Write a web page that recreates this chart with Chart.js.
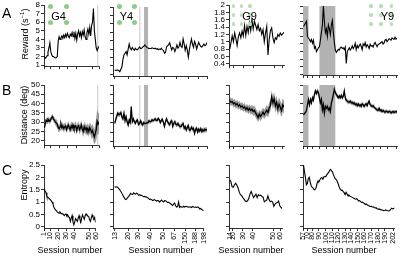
<!DOCTYPE html>
<html><head><meta charset="utf-8">
<script src="https://cdn.jsdelivr.net/npm/chart.js@4"></script>
<style>
body{margin:0;width:405px;height:257px;background:#fff;position:relative;overflow:hidden;font-family:"Liberation Sans",Arial,sans-serif;color:#000}
canvas{position:absolute}
.t{position:absolute;white-space:nowrap;line-height:1}
.r{position:absolute;white-space:nowrap;line-height:1;transform:translate(-50%,-50%) rotate(-90deg)}
.c{position:absolute;white-space:nowrap;line-height:1;transform:translate(-50%,-50%)}
</style></head><body>
<script>
// ---------- DATA ----------
const g4Reward=[2.0,1.8,1.9,2.1,2.5,3.0,3.6,2.6,2.2,2.0, 2.0,1.9,1.85,1.9,2.0,3.8,4.3,4.0,4.2,4.4, 4.1,4.5,4.2,4.6,4.3,4.7,4.4,4.2,4.6,4.4, 4.8,4.3,4.9,4.1,4.7,3.9,4.6,5.0,4.4,4.8, 4.2,4.9,4.5,5.1,4.3,4.0,4.8,5.2,4.6,5.4, 4.4,5.6,6.0,7.6,5.0,4.0,3.0,2.7,3.0,3.2];
const g4Dist=[27,29,31,30.5,31.5,31,30.5,31.5,32.5,33, 31.5,31,30,29.5,29,27,26.5,27.5,29,27, 28,26.5,27.5,28,26,27.5,28.5,27,26,28, 27,28.5,26.5,27.5,28,25.5,27.5,28,26,27, 28.5,26,25,27.5,26,27,25.5,26.5,25,27, 26,24.5,25.5,23.5,22,24,26,30.5,29,30];
const g4DistSem=[2,2,1.5,1.5,1.5,1.5,1.5,1.5,1.5,1.5, 1.5,1.5,1.5,2,2,2,2,2,2,2, 2,2,2,2,2,2,2,2,2,2.5, 2.5,2,2,2.5,2.5,2.5,2,2.5,2.5,2.5, 2.5,2.5,3,3,2.5,3,3,3,3,3, 3,3.5,3.5,4,4,5,6,7,6,5];
const g4Entropy=[1.53,1.45,1.38,1.22,1.2,1.17,1.12,1.1,1.05,1.0, 0.92,0.8,0.72,0.68,0.64,0.6,0.57,0.55,0.6,0.56, 0.52,0.53,0.5,0.45,0.5,0.52,0.44,0.48,0.4,0.38, 0.22,0.35,0.45,0.2,0.08,0.2,0.33,0.28,0.22,0.35, 0.45,0.3,0.18,0.35,0.48,0.38,0.3,0.45,0.52,0.47, 0.44,0.42,0.3,0.22,0.35,0.48,0.38,0.3,0.38,0.18];

const y4Reward=[0.5,0.45,0.5,0.5,0.45,0.3,0.6,0.9,1.8,2.3, 2.5,2.7,2.3,3.0,3.6,3.1,2.9,3.2,3.0,2.85, 3.1,2.95,2.9,3.1,3.25,3.05,3.1,3.25,3.3,3.5, 3.35,3.2,3.15,3.05,3.1,3.05,3.15,3.1,3.05,3.1, 3.0,3.05,2.95,3.0,2.95,3.1,2.9,2.85,2.5,2.6, 3.25,3.4,3.5,3.75,3.3,2.9,3.2,3.1,2.7,3.05, 3.5,3.1,3.3,3.8,3.3,3.2,4.2,3.6,2.85,3.4, 2.9,2.05,2.9,3.6,4.2,3.6,3.2,3.9,3.6,3.0, 3.4,3.8,3.5,3.3,3.25,3.4,3.6,3.4,3.5,3.8];
const y4Dist=[29.6,31.5,33.5,35,34.2,34.5,35.3,33,32,35, 31,33.2,30.5,28.8,31.4,30,38.5,30.5,32,30.5, 29.6,31,31.4,29,29.5,31,29.5,28.8,30,29.5, 29.6,30,29.8,31,30.5,30.5,31.5,31,31.4,32, 31.2,31.2,32.2,31.5,30,31.2,31.8,30,28,30.5, 32,30.5,29.6,28.8,30.5,31,28,29.6,30.5,29, 28.8,29.6,28.5,28,27.9,29,29.5,27,27.9,26.1, 27.5,28.5,26,26.1,27.5,26.5,27,24.3,26.5,27, 25,26.5,25.5,26.8,25.3,26.2,25.6,26.5,26,26.3];
const y4DistSem=[1.2,1.2,1.3,1.3,1.3,1.2,1.3,1.2,1.2,1.3, 1.2,1.2,1.2,1.3,1.2,1.2,1.5,1.3,1.2,1.2, 1.1,1.1,1.2,1.1,1.1,1.2,1.1,1.1,1.0,1.0, 1.0,1.0,1.0,1.0,1.1,1.0,1.0,1.0,1.0,1.0, 1.0,1.0,1.0,1.0,1.1,1.1,1.1,1.1,1.2,1.1, 1.1,1.2,1.2,1.1,1.1,1.2,1.2,1.1,1.2,1.2, 1.2,1.1,1.2,1.2,1.2,1.2,1.3,1.2,1.3,1.3, 1.3,1.3,1.3,1.3,1.2,1.3,1.3,1.4,1.3,1.3, 1.3,1.3,1.3,1.3,1.3,1.3,1.3,1.3,1.3,1.3];
const y4Entropy=[1.62,1.6,1.62,1.6,1.55,1.5,1.45,1.38,1.3,1.22, 1.15,1.1,1.12,1.18,1.22,1.28,1.35,1.32,1.3,1.37, 1.34,1.32,1.36,1.33,1.28,1.3,1.27,1.27,1.24,1.22, 1.23,1.21,1.2,1.17,1.15,1.1,1.12,1.1,1.06,1.08, 1.1,1.06,1.04,1.06,1.05,1.0,1.05,1.08,1.03,1.0, 1.06,1.05,1.02,0.98,1.0,0.96,0.93,0.9,0.86,0.92, 0.96,0.85,0.8,0.82,1.0,0.78,0.82,0.8,0.79,0.83, 0.8,0.82,0.83,0.8,0.79,0.81,0.8,0.78,0.82,0.8, 0.79,0.8,0.78,0.8,0.79,0.72,0.74,0.7,0.68,0.65];

const g9Reward=[0.8,0.98,1.16,1.0,1.24,1.08,0.9,1.14,1.24,1.11, 1.29,1.16,1.44,1.17,1.42,1.25,1.51,1.3,1.6,1.35, 1.56,1.45,1.33,1.47,1.3,1.37,1.2,1.33,1.0,1.24, 1.42,0.64,1.07,1.3,1.38,1.11,0.98,1.11,1.07,1.2, 1.15,1.24,1.18,1.22,1.26];
const g9Dist=[41.8,40.8,41.2,40.0,40.6,39.4,40.1,38.8,39.5,38.3, 38.9,37.8,38.4,37.0,37.9,36.6,37.6,36.4,37.2,36.0, 36.6,35.2,34.0,32.7,34.5,33.3,34.4,35.6,34.3,35.5, 36.6,35.4,37.8,39.1,43.6,40.6,42.7,38.8,40.8,37.3, 39.8,38.2,36.4,39.4,38.2];
const g9DistSem=[2,2,2,2,2,2,2,2,2,2, 2,2,2,2,2,2.2,2.2,2.2,2.4,2.4, 2.5,2.5,2.5,2.5,2.5,2.5,2.5,2.5,2.5,2.5, 2.8,2.8,3,3,3.5,3.5,3.5,3.5,3.5,3.5, 3.5,3.5,3.5,3.5,3.5];
const g9Entropy=[1.9,1.82,1.62,1.6,1.7,1.76,1.68,1.58,1.4,1.3, 1.26,1.18,1.12,1.04,1.02,1.05,1.15,1.32,1.43,1.3, 1.18,1.25,1.32,1.18,1.3,1.26,1.28,1.22,1.2,1.01, 1.05,1.08,1.25,1.1,1.01,1.04,1.0,0.83,0.92,0.96, 0.98,1.04,0.85,0.78,0.74];

const y9Reward=[1.46,1.5,1.55,1.6,1.2,1.15,1.12,1.06,1.12,1.02, 1.1,0.89,0.93,0.8,0.85,0.9,0.93,1.1,1.3,1.5, 2.0,1.6,1.3,1.4,1.2,1.5,1.4,1.25,1.5,1.62, 1.3,1.05,0.84,0.78,0.82,0.86,0.84,0.9,0.92,0.88, 0.9,0.85,0.92,0.49,0.8,0.85,0.9,0.84,0.88,0.95, 0.88,0.93,1.02,0.85,0.96,0.9,0.95,1.0,0.94,0.85, 1.0,0.96,1.04,0.92,0.98,0.94,0.88,0.99,0.94,0.96, 0.92,1.0,1.04,0.98,0.93,0.99,1.0,1.02,1.04,1.06, 1.0,1.03,1.1,1.12,1.06,1.1,1.14,1.12,1.1,1.16, 1.14,1.12,1.18,1.13,1.15];
const y9Dist=[34.1,35,35.4,36.5,39.5,42.3,39.5,42.3,40.5,43.2, 42,45,46.8,45.5,46.8,46,43.2,40.5,42.3,36.8, 39.5,35,38.6,37.7,38.6,36.8,37.7,35.9,40.5,42.3, 45,47.7,45.9,45,44.1,43.2,44.1,43.2,44.5,43.2, 44,46.8,43.2,41.9,41.4,41,40.8,41.4,40.5,40.8, 40,40.5,39.5,40,39,40,39,39.5,38.6,40, 39.5,38.6,39.5,40,39,40.5,41.4,39.5,39,38.6, 39,38.2,37.7,37.2,36.8,36.5,37.7,36.3,36.8,35.9, 36.5,35.9,35.5,36.2,35.9,35.5,36,35.9,35.2,35.6, 35.9,35.4,35.7,35.9,35.6];
const y9DistSem=[1.2,1.2,1.3,1.3,1.5,1.5,1.5,1.5,1.5,1.5, 1.5,1.5,1.5,1.5,1.5,1.5,2,2,2,2, 2,2,2,2,2,2,2,2,2,1.8, 1.6,1.5,1.4,1.3,1.3,1.2,1.2,1.2,1.2,1.2, 1.2,1.2,1.2,1.2,1.1,1.1,1.1,1.1,1.1,1.1, 1.1,1.1,1.1,1.1,1.1,1.1,1.1,1.1,1.1,1.1, 1.1,1.1,1.1,1.1,1.1,1.1,1.1,1.1,1.1,1.1, 1.0,1.0,1.0,1.0,1.0,1.0,1.0,1.0,1.0,1.0, 1.0,1.0,1.0,1.0,1.0,1.0,1.0,1.0,1.0,1.0, 1.0,1.0,1.0,1.0,1.0];
const y9Entropy=[2.5,2.24,2.0,1.7,1.75,1.95,2.0,1.8,1.65,1.6, 1.56,1.5,1.52,1.58,1.75,1.85,1.83,1.9,1.97,1.99, 1.92,2.02,2.03,2.03,2.1,2.15,2.2,2.28,2.32,2.26, 2.22,2.1,2.0,1.94,1.9,1.82,1.72,1.6,1.52,1.47, 1.48,1.42,1.38,1.3,1.4,1.33,1.25,1.28,1.24,1.22, 1.2,1.18,1.15,1.13,1.12,1.14,1.09,1.04,1.06,1.02, 0.99,1.0,0.96,0.94,0.9,0.92,0.88,0.86,0.84,0.82, 0.83,0.8,0.81,0.78,0.76,0.77,0.72,0.73,0.7,0.71, 0.68,0.69,0.67,0.65,0.66,0.68,0.66,0.65,0.64,0.66, 0.7,0.75,0.72,0.74,0.76];

// x tick labels (session numbers) and their positions along each panel's point index
const g4XLabels=['1','10','20','30','40','50','60'];
const g4XPos=[0,7,16,25.5,34.5,51.5,59];
const y4XLabels=['13','20','30','40','50','67','150','188','198'];
const y4XPos=[0,13.8,23.5,35.5,48.4,59.7,70.9,80.6,89];
const g9XLabels=['14','20','30','40','50','60'];
const g9XPos=[0,2.7,10.9,19.3,36.7,42.5];
const y9XLabels=['57','70','80','90','100','110','120','130','140','150','160','170','180','190','202'];
const y9XPos=[0,4,9,16,23,30,36,43,49,56,63,70,77,84,93];

// y ticks
const rewardTicksG4=[1,2,3,4,5,6,7,8];
const rewardTicksY4=[0,1,2,3,4,5,6,7,8];
const rewardTicksG9=[0.4,0.6,0.8,1.0,1.2,1.4,1.6,1.8,2.0];
const rewardLabelsG9=['0.4','0.6','0.8','1','1.2','1.4','1.6','1.8','2'];
const rewardTicksY9=[0.2,0.4,0.6,0.8,1.0,1.2,1.4,1.6,1.8,2.0];
const distTicks=[20,25,30,35,40,45,50];
const entropyTicks=[0,0.5,1,1.5,2,2.5];
const entropyLabels=['0','0.5','1','1.5','2','2.5'];

// shaded session ranges (point index)
const g4Marks=[57.5];
const y4Marks=[24.2];
const y4Bands=[[28.3,32.2]];
const y9Bands=[[-0.5,5],[16,32]];

// ---------- DRAWING ----------
Chart.defaults.font.family="'Liberation Sans', Arial, sans-serif";
Chart.defaults.color='#000';

const bandPlugin={id:'bands',beforeDatasetsDraw(chart,args,o){
  const ctx=chart.ctx,a=chart.chartArea,x=chart.scales.x;
  ctx.save();
  (o.lines||[]).forEach(l=>{const p=x.getPixelForValue(l);ctx.fillStyle='#d4d4d4';ctx.fillRect(p-0.6,a.top,1.3,a.bottom-a.top);});
  (o.bands||[]).forEach(b=>{const p0=x.getPixelForValue(b[0]),p1=x.getPixelForValue(b[1]);ctx.fillStyle='#b2b2b2';ctx.fillRect(p0,a.top,p1-p0,a.bottom-a.top);});
  ctx.restore();
}};

function panel(c){
  const padL=30,padT=6,padR=6,padB=c.xLabels?20:5;
  const w=c.x1-c.x0,h=c.y1-c.y0;
  const cv=document.createElement('canvas');
  cv.width=padL+w+padR;cv.height=padT+h+padB;
  cv.style.left=(c.x0-padL)+'px';cv.style.top=(c.y0-padT)+'px';
  cv.style.width=cv.width+'px';cv.style.height=cv.height+'px';
  document.body.appendChild(cv);
  const pts=c.data.map((v,i)=>({x:i,y:v}));
  const ds=[];
  ds.push({data:pts,borderColor:'#000',borderWidth:c.lw||1.1,pointRadius:0,tension:0,order:0,fill:false});
  if(c.sem){
    ds.push({data:c.data.map((v,i)=>({x:i,y:v+c.sem[i]})),borderWidth:0,pointRadius:0,order:2,fill:false,borderColor:'rgba(0,0,0,0)'});
    ds.push({data:c.data.map((v,i)=>({x:i,y:v-c.sem[i]})),borderWidth:0,pointRadius:0,order:1,fill:'-1',backgroundColor:'#9a9a9a',borderColor:'rgba(0,0,0,0)'});
  }
  const xl=c.xLabels,yl=c.yLabels;
  new Chart(cv,{type:'line',data:{datasets:ds},plugins:[bandPlugin],options:{
    responsive:false,animation:false,devicePixelRatio:1,
    layout:{padding:{top:padT,right:padR,left:0,bottom:0}},
    plugins:{legend:{display:false},tooltip:{enabled:false},bands:{bands:c.bands||[],lines:c.lines||[]}},
    scales:{
      x:{type:'linear',min:c.xmin,max:c.xmax,
        afterBuildTicks:s=>{s.ticks=c.xPos.map(v=>({value:v}));},
        afterFit:s=>{s.height=padB;},
        grid:{display:true,drawOnChartArea:false,drawTicks:true,tickLength:3,color:'#000',lineWidth:0.8},
        border:{display:true,color:'#000',width:0.8},
        ticks:{display:!!xl,autoSkip:false,minRotation:90,maxRotation:90,padding:1,font:{size:7},color:'#000',callback:(v,i)=>xl?xl[i]:''}},
      y:{type:'linear',min:c.ymin,max:c.ymax,
        afterBuildTicks:s=>{s.ticks=c.yTicks.map(v=>({value:v}));},
        afterFit:s=>{s.width=padL;},
        grid:{display:true,drawOnChartArea:false,drawTicks:true,tickLength:3,color:'#000',lineWidth:0.8},
        border:{display:true,color:'#000',width:0.8},
        ticks:{display:!!yl,autoSkip:false,padding:1,font:{size:8},color:'#000',callback:(v,i)=>yl?yl[i]:''}}
    }}});
}

// column geometry
const G4={x0:44,x1:99,xmin:-0.3,xmax:59,xPos:g4XPos};
const Y4={x0:113,x1:207,xmin:-1.6,xmax:89,xPos:y4XPos};
const G9={x0:229,x1:284,xmin:-0.6,xmax:44,xPos:g9XPos};
const Y9={x0:303,x1:397,xmin:-0.5,xmax:94,xPos:y9XPos};
const rowB={y0:85,y1:146,ymin:17.6,ymax:50,yTicks:distTicks};
const rowC={y0:165,y1:228,ymin:-0.05,ymax:2.5,yTicks:entropyTicks};

// Row A
panel({...G4,y0:5,y1:67,ymin:0.88,ymax:8,yTicks:rewardTicksG4,yLabels:rewardTicksG4.map(String),data:g4Reward,lines:g4Marks});
panel({...Y4,y0:7,y1:76,ymin:-0.2,ymax:8,yTicks:rewardTicksY4,data:y4Reward,lines:y4Marks,bands:y4Bands});
panel({...G9,y0:5,y1:66,ymin:0.365,ymax:2,yTicks:rewardTicksG9,yLabels:rewardLabelsG9,data:g9Reward});
panel({...Y9,y0:6,y1:75,ymin:0.184,ymax:2,yTicks:rewardTicksY9,data:y9Reward,bands:y9Bands});
// Row B
panel({...G4,...rowB,yLabels:distTicks.map(String),data:g4Dist,sem:g4DistSem,lines:g4Marks,lw:1.3});
panel({...Y4,...rowB,data:y4Dist,sem:y4DistSem,lines:y4Marks,bands:y4Bands,lw:1.3});
panel({...G9,...rowB,data:g9Dist,sem:g9DistSem,lw:1.3});
panel({...Y9,...rowB,data:y9Dist,sem:y9DistSem,bands:y9Bands,lw:1.3});
// Row C
panel({...G4,...rowC,yLabels:entropyLabels,xLabels:g4XLabels,data:g4Entropy});
panel({...Y4,...rowC,xLabels:y4XLabels,data:y4Entropy});
panel({...G9,...rowC,xLabels:g9XLabels,data:g9Entropy});
panel({...Y9,...rowC,xLabels:y9XLabels,data:y9Entropy});

// ---------- TEXT & DECORATION ----------
function el(cls,html,x,y,size,extra){const d=document.createElement('div');d.className=cls;d.innerHTML=html;d.style.left=x+'px';d.style.top=y+'px';d.style.fontSize=size+'px';if(extra)d.style.cssText+=extra;document.body.appendChild(d);}
el('t','A',2,6,14);el('t','B',2,83,14);el('t','C',2,163,14);
el('r','Reward (s<sup style="font-size:6px">−1</sup>)',24,34,9);
el('r','Distance (deg)',24,115,9);
el('r','Entropy',24,185,9);
[70,161,251,344].forEach(cx=>el('c','Session number',cx,250,9));
function dot(x,y,r,col){const d=document.createElement('div');d.style.cssText=`position:absolute;left:${x-r}px;top:${y-r}px;width:${2*r}px;height:${2*r}px;border-radius:50%;background:${col}`;document.body.appendChild(d);}
const big='#8fca8f',small='#b9ddb9';
[[50.7,6.7],[66,6.7],[50.7,22.3],[66,22.3]].forEach(p=>dot(p[0],p[1],2.5,big));
[[119.3,6.7],[134,6.7],[119.3,22.3],[134,22.3]].forEach(p=>dot(p[0],p[1],2.5,big));
[233.3,241.7,250].forEach(x=>[6,15,24].forEach(y=>dot(x,y,1.6,small)));
[371,381,391.7].forEach(x=>[6,15,24].forEach(y=>dot(x,y,1.6,small)));
el('c','G4',58.5,16,11);el('c','Y4',126.5,16,11);
el('c','G9',249.5,16,11,'background:transparent');el('c','Y9',387.5,16,11);
</script>
</body></html>
